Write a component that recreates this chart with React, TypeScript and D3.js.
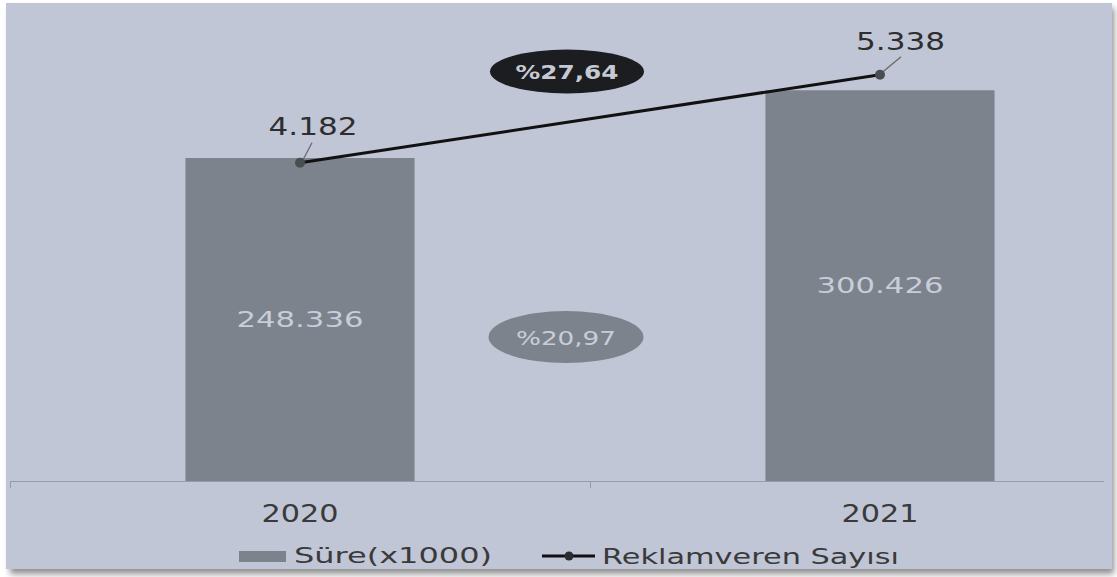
import React from "react";
import * as d3 from "d3";

const years = ["2020", "2021"];
const sureValues = [248336, 300426]; // Süre (x1000)
const advertiserValues = [4182, 5338]; // Reklamveren Sayısı
const sureChangePct = 20.97;
const advertiserChangePct = 27.64;
const legendLabels = ["Süre(x1000)", "Reklamveren Sayısı"];

const W = 1117;
const H = 577;
const BG = "#c0c6d6";
const BAR = "#7d838d";
const FONT = "'DejaVu Sans', Verdana, sans-serif";

const tr = d3.formatLocale({ decimal: ",", thousands: ".", grouping: [3], currency: ["", "₺"] });
const fmtInt = tr.format(",d");
const fmtPct = tr.format(".2f");

export default function App() {
  const y0 = 481;
  const x = d3.scaleBand<string>().domain(years).range([10, 1170]).paddingInner(0).paddingOuter(0);
  const barW = x.bandwidth() * 0.395;
  const cx = (y: string) => (x(y) as number) + x.bandwidth() / 2;
  const yBar = d3.scaleLinear().domain([0, 350000]).range([y0, y0 - 455.2]);
  const yLine = d3.scaleLinear().domain([0, 6000]).range([y0, y0 - 456.6]);

  const linePts: [number, number][] = years.map((yr, i) => [cx(yr), yLine(advertiserValues[i])]);
  const lineGen = d3.line();
  const midX = (cx(years[0]) + cx(years[1])) / 2 - 23;

  return (
    <svg
      width={W}
      height={H}
      style={{ position: "fixed", left: 0, top: 0, background: "#fff" }}
      fontFamily={FONT}
    >
      <defs>
        <filter id="sh" x="-5%" y="-5%" width="110%" height="110%">
          <feGaussianBlur stdDeviation="3" />
        </filter>
      </defs>
      <rect x={10} y={8} width={1104} height={566} fill="#8e8e8e" filter="url(#sh)" />
      <rect x={6} y={3} width={1106} height={566} fill={BG} />

      {/* bars */}
      {years.map((yr, i) => (
        <rect
          key={yr}
          x={cx(yr) - barW / 2}
          y={yBar(sureValues[i])}
          width={barW}
          height={y0 - yBar(sureValues[i])}
          fill={BAR}
        />
      ))}

      {/* axis */}
      <line x1={10} x2={1104} y1={y0 + 0.5} y2={y0 + 0.5} stroke="#959ba7" strokeWidth={1.2} />
      {[10, (x(years[1]) as number)].map((t, i) => (
        <line key={i} x1={t + 0.5} x2={t + 0.5} y1={y0} y2={y0 + 7} stroke="#959ba7" strokeWidth={1} />
      ))}
      {years.map((yr) => (
        <text
          key={yr}
          x={cx(yr)}
          y={522}
          textAnchor="middle"
          fontSize={24}
          fill="#3a3a3a"
          textLength={77}
          lengthAdjust="spacingAndGlyphs"
        >
          {yr}
        </text>
      ))}

      {/* bar labels */}
      {years.map((yr, i) => (
        <text
          key={yr}
          x={cx(yr)}
          y={(yBar(sureValues[i]) + y0) / 2 + 7.5}
          textAnchor="middle"
          fontSize={21.5}
          fill="#c8cdd9"
          textLength={127}
          lengthAdjust="spacingAndGlyphs"
        >
          {fmtInt(sureValues[i])}
        </text>
      ))}

      {/* line */}
      <path d={lineGen(linePts) || ""} fill="none" stroke="#111" strokeWidth={3} />
      {linePts.map(([px, py], i) => (
        <g key={i}>
          <line
            x1={px + 3}
            y1={py - 3}
            x2={px + (i === 0 ? 12 : 21)}
            y2={py - (i === 0 ? 20 : 18)}
            stroke="#666"
            strokeWidth={1.2}
          />
          <circle cx={px} cy={py} r={5} fill="#4a4d52" />
          <text
            x={px + (i === 0 ? 13 : 20.5)}
            y={py - (i === 0 ? 28 : 25)}
            textAnchor="middle"
            fontSize={24.5}
            fill="#2e2e2e"
            textLength={89}
            lengthAdjust="spacingAndGlyphs"
          >
            {fmtInt(advertiserValues[i])}
          </text>
        </g>
      ))}

      {/* change ellipses */}
      <ellipse cx={midX} cy={71.5} rx={77} ry={22} fill="#1b1d20" />
      <text
        x={midX}
        y={79}
        textAnchor="middle"
        fontSize={20}
        fontWeight="bold"
        fill="#c5c9d3"
        textLength={103}
        lengthAdjust="spacingAndGlyphs"
      >
        {"%" + fmtPct(advertiserChangePct)}
      </text>
      <ellipse cx={midX - 1} cy={337} rx={77.5} ry={26} fill="#7d838d" />
      <text
        x={midX - 1}
        y={345}
        textAnchor="middle"
        fontSize={20}
        fill="#c8cdd9"
        textLength={100}
        lengthAdjust="spacingAndGlyphs"
      >
        {"%" + fmtPct(sureChangePct)}
      </text>

      {/* legend */}
      <rect x={239} y={551} width={47} height={11} fill={BAR} />
      <text x={294} y={563} fontSize={21} fill="#3a3a3a" textLength={198} lengthAdjust="spacingAndGlyphs">
        {legendLabels[0]}
      </text>
      <line x1={542} x2={595} y1={556} y2={556} stroke="#111" strokeWidth={3} />
      <circle cx={569} cy={556} r={4.5} fill="#2a2c30" />
      <text x={602} y={564} fontSize={21} fill="#3a3a3a" textLength={297} lengthAdjust="spacingAndGlyphs">
        {legendLabels[1]}
      </text>
    </svg>
  );
}
